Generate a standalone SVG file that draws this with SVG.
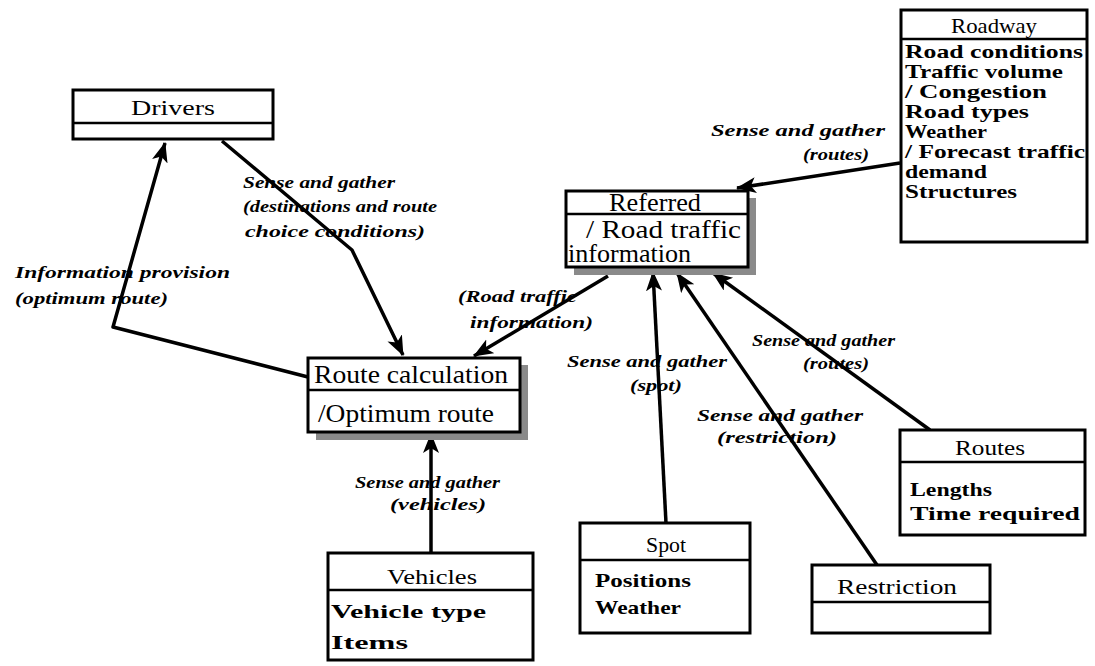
<svg xmlns="http://www.w3.org/2000/svg" width="1095" height="666" viewBox="0 0 1095 666">
  <style>
    .box { fill: #fff; stroke: #000; stroke-width: 3; }
    .div { stroke: #000; stroke-width: 2.5; }
    .shadow { fill: #8a8a8a; }
    .title { font-family: "Liberation Serif", "Times New Roman", serif; font-size: 21px; fill: #000; }
    .attr { font-family: "Liberation Serif", "Times New Roman", serif; font-size: 19px; font-weight: bold; fill: #000; }
    .big { font-family: "Liberation Serif", "Times New Roman", serif; font-size: 25px; fill: #000; }
    .lbl { font-family: "Liberation Serif", "Times New Roman", serif; font-size: 17px; font-style: italic; font-weight: bold; fill: #000; }
    .conn { fill: none; stroke: #000; stroke-width: 3.5; stroke-linejoin: round; marker-end: url(#arrow); }
  </style>
  <defs>
    <marker id="arrow" markerUnits="userSpaceOnUse" markerWidth="22" markerHeight="18" refX="19" refY="8" orient="auto">
      <path d="M0,0 L20,8 L0,16 L5,8 z" fill="#000"/>
    </marker>
  </defs>
  <rect width="1095" height="666" fill="#fff"/>

  <!-- connectors -->
  <g id="connectors">
    <polyline class="conn" points="222,141 352,250 403,355"/>
    <polyline class="conn" points="308,377 113,327 165,143"/>
    <line class="conn" x1="608" y1="276" x2="474" y2="356"/>
    <line class="conn" x1="666" y1="523" x2="653" y2="272"/>
    <line class="conn" x1="877" y1="565" x2="677" y2="273"/>
    <line class="conn" x1="930" y1="430" x2="713" y2="273"/>
    <line class="conn" x1="431" y1="553" x2="431" y2="434"/>
    <line class="conn" x1="900" y1="163" x2="737" y2="188"/>

    <text class="lbl" x="243" y="188" textLength="152" lengthAdjust="spacingAndGlyphs">Sense and gather</text>
    <text class="lbl" x="243" y="212" textLength="194" lengthAdjust="spacingAndGlyphs">(destinations and route</text>
    <text class="lbl" x="245" y="237" textLength="180" lengthAdjust="spacingAndGlyphs">choice conditions)</text>

    <text class="lbl" x="15" y="278" textLength="215" lengthAdjust="spacingAndGlyphs">Information provision</text>
    <text class="lbl" x="15" y="304" textLength="153" lengthAdjust="spacingAndGlyphs">(optimum route)</text>

    <text class="lbl" x="458" y="302" textLength="119" lengthAdjust="spacingAndGlyphs">(Road traffic</text>
    <text class="lbl" x="470" y="328" textLength="123" lengthAdjust="spacingAndGlyphs">information)</text>

    <text class="lbl" x="567" y="367" textLength="160" lengthAdjust="spacingAndGlyphs">Sense and gather</text>
    <text class="lbl" x="630" y="391" textLength="52" lengthAdjust="spacingAndGlyphs">(spot)</text>

    <text class="lbl" x="697" y="421" textLength="166" lengthAdjust="spacingAndGlyphs">Sense and gather</text>
    <text class="lbl" x="717" y="443" textLength="120" lengthAdjust="spacingAndGlyphs">(restriction)</text>

    <text class="lbl" x="752" y="346" textLength="143" lengthAdjust="spacingAndGlyphs">Sense and gather</text>
    <text class="lbl" x="803" y="369" textLength="66" lengthAdjust="spacingAndGlyphs">(routes)</text>

    <text class="lbl" x="355" y="488" textLength="145" lengthAdjust="spacingAndGlyphs">Sense and gather</text>
    <text class="lbl" x="390" y="510" textLength="96" lengthAdjust="spacingAndGlyphs">(vehicles)</text>

    <text class="lbl" x="711" y="136" textLength="174" lengthAdjust="spacingAndGlyphs">Sense and gather</text>
    <text class="lbl" x="803" y="160" textLength="66" lengthAdjust="spacingAndGlyphs">(routes)</text>
  </g>

  <!-- Drivers -->
  <g id="drivers">
    <rect class="box" x="73" y="90" width="200" height="49" stroke-width="3.5"/>
    <line class="div" x1="73" y1="123" x2="273" y2="123"/>
    <text class="title" x="173" y="115" text-anchor="middle" textLength="84" lengthAdjust="spacingAndGlyphs">Drivers</text>
  </g>

  <!-- Roadway -->
  <g id="roadway">
    <rect class="box" x="901" y="10" width="186" height="232"/>
    <line class="div" x1="901" y1="39" x2="1087" y2="39"/>
    <text class="title" x="994" y="33" text-anchor="middle" textLength="86" lengthAdjust="spacingAndGlyphs">Roadway</text>
    <text class="attr" x="905" y="58" textLength="178" lengthAdjust="spacingAndGlyphs">Road conditions</text>
    <text class="attr" x="905" y="78" textLength="158" lengthAdjust="spacingAndGlyphs">Traffic volume</text>
    <text class="attr" x="905" y="98" textLength="142" lengthAdjust="spacingAndGlyphs">/ Congestion</text>
    <text class="attr" x="905" y="118" textLength="124" lengthAdjust="spacingAndGlyphs">Road types</text>
    <text class="attr" x="905" y="138" textLength="82" lengthAdjust="spacingAndGlyphs">Weather</text>
    <text class="attr" x="905" y="158" textLength="180" lengthAdjust="spacingAndGlyphs">/  Forecast  traffic</text>
    <text class="attr" x="905" y="178" textLength="82" lengthAdjust="spacingAndGlyphs">demand</text>
    <text class="attr" x="905" y="198" textLength="112" lengthAdjust="spacingAndGlyphs">Structures</text>
  </g>

  <!-- Referred -->
  <g id="referred">
    <rect class="shadow" x="574" y="198" width="182" height="77"/>
    <rect class="box" x="566" y="191" width="182" height="76" stroke-width="3.5"/>
    <line class="div" x1="566" y1="214" x2="748" y2="214" stroke-width="3"/>
    <text class="big" x="655" y="211" text-anchor="middle" textLength="92" lengthAdjust="spacingAndGlyphs">Referred</text>
    <text class="big" x="586" y="238" textLength="155" lengthAdjust="spacingAndGlyphs">/ Road traffic</text>
    <text class="big" x="568" y="262" textLength="123" lengthAdjust="spacingAndGlyphs">information</text>
  </g>

  <!-- Route calculation -->
  <g id="route-calculation">
    <rect class="shadow" x="316" y="365" width="212" height="75"/>
    <rect class="box" x="308" y="358" width="212" height="74" stroke-width="3.5"/>
    <line class="div" x1="308" y1="390" x2="520" y2="390" stroke-width="3.5"/>
    <text class="big" x="314" y="383" textLength="194" lengthAdjust="spacingAndGlyphs">Route calculation</text>
    <text class="big" x="318" y="422" textLength="176" lengthAdjust="spacingAndGlyphs">/Optimum route</text>
  </g>

  <!-- Vehicles -->
  <g id="vehicles">
    <rect class="box" x="328" y="553" width="205" height="107"/>
    <line class="div" x1="328" y1="590" x2="533" y2="590"/>
    <text class="title" x="432" y="584" text-anchor="middle" textLength="90" lengthAdjust="spacingAndGlyphs">Vehicles</text>
    <text class="attr" x="331" y="618" textLength="155" lengthAdjust="spacingAndGlyphs">Vehicle type</text>
    <text class="attr" x="331" y="649" textLength="77" lengthAdjust="spacingAndGlyphs">Items</text>
  </g>

  <!-- Spot -->
  <g id="spot">
    <rect class="box" x="580" y="523" width="170" height="110"/>
    <line class="div" x1="580" y1="560" x2="750" y2="560"/>
    <text class="title" x="666" y="552" text-anchor="middle" textLength="40" lengthAdjust="spacingAndGlyphs">Spot</text>
    <text class="attr" x="595" y="587" textLength="96" lengthAdjust="spacingAndGlyphs">Positions</text>
    <text class="attr" x="595" y="614" textLength="86" lengthAdjust="spacingAndGlyphs">Weather</text>
  </g>

  <!-- Restriction -->
  <g id="restriction">
    <rect class="box" x="812" y="565" width="178" height="68"/>
    <line class="div" x1="812" y1="602" x2="990" y2="602"/>
    <text class="title" x="897" y="594" text-anchor="middle" textLength="120" lengthAdjust="spacingAndGlyphs">Restriction</text>
  </g>

  <!-- Routes -->
  <g id="routes">
    <rect class="box" x="900" y="430" width="185" height="105"/>
    <line class="div" x1="900" y1="462" x2="1085" y2="462"/>
    <text class="title" x="990" y="455" text-anchor="middle" textLength="70" lengthAdjust="spacingAndGlyphs">Routes</text>
    <text class="attr" x="910" y="496" textLength="82" lengthAdjust="spacingAndGlyphs">Lengths</text>
    <text class="attr" x="910" y="520" textLength="170" lengthAdjust="spacingAndGlyphs">Time required</text>
  </g>
</svg>
